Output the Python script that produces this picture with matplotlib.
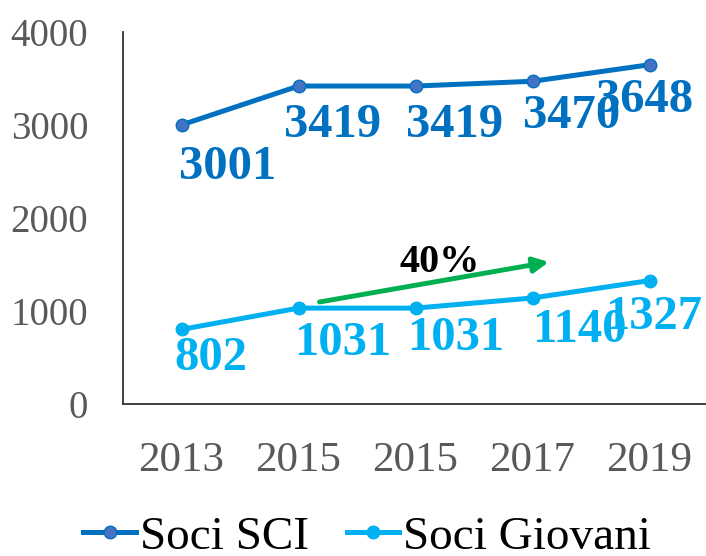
import matplotlib.pyplot as plt

years = ["2013", "2015", "2015", "2017", "2019"]
soci_sci = [3001, 3419, 3419, 3470, 3648]
soci_giovani = [802, 1031, 1031, 1140, 1327]
growth_label = "40%"

# label offsets in pixels (dx, dy of baseline) as placed in the original
sci_offsets = [(46, -54), (34, -51), (39, -51), (39, -47), (-5, -47)]
giov_offsets = [(29, -41), (44, -47), (40, -42), (47, -44), (4, -48)]

plt.rcParams['font.family'] = ['Liberation Serif', 'DejaVu Serif']

fig = plt.figure(figsize=(7.06, 5.56), dpi=100)
ax = fig.add_axes([123 / 706, 152 / 556, 585 / 706, 372 / 556])

x = list(range(len(years)))
ax.plot(x, soci_sci, color="#0070C0", lw=3.6, marker="o", ms=9,
        mfc="#4472C4", mec="#0070C0", label="Soci SCI", clip_on=False)
ax.plot(x, soci_giovani, color="#00B0F0", lw=3.6, marker="o", ms=9,
        mfc="#00B0F0", mec="#00B0F0", label="Soci Giovani", clip_on=False)

for xi, v, (dx, dy) in zip(x, soci_sci, sci_offsets):
    ax.annotate(str(v), (xi, v), xytext=(dx, dy), textcoords="offset pixels",
                ha="center", va="baseline", fontsize=35, fontweight="bold",
                color="#0070C0", annotation_clip=False)
for xi, v, (dx, dy) in zip(x, soci_giovani, giov_offsets):
    ax.annotate(str(v), (xi, v), xytext=(dx, dy), textcoords="offset pixels",
                ha="center", va="baseline", fontsize=35, fontweight="bold",
                color="#00B0F0", annotation_clip=False)

# green growth arrow
ax.annotate("", xy=(3.14, 1527), xytext=(1.18, 1097),
            arrowprops=dict(arrowstyle="-|>,head_length=0.9,head_width=0.45",
                            color="#00B050", lw=3.5, shrinkA=0, shrinkB=0))
ax.text(2.21, 1420, growth_label, ha="center", va="baseline", fontsize=29,
        fontweight="bold", color="black")

ax.set_xlim(-0.5, 4.5)
ax.set_ylim(0, 4000)
ax.set_yticks([0, 1000, 2000, 3000, 4000])
ax.set_xticks(x)
ax.set_xticklabels(years)
ax.tick_params(length=0, labelcolor="#595959")
ax.tick_params(axis="y", pad=25, labelsize=28)
ax.tick_params(axis="x", pad=27, labelsize=31)
for s in ["top", "right"]:
    ax.spines[s].set_visible(False)
for s in ["left", "bottom"]:
    ax.spines[s].set_color("#333333")
    ax.spines[s].set_linewidth(1.3)

fig.legend(loc="center", bbox_to_anchor=(0.52, 0.034), ncol=2, frameon=False,
           fontsize=34, handlelength=1.12, handletextpad=0.08,
           columnspacing=0.8, borderpad=0, borderaxespad=0)

fig.savefig("out.png", dpi=100)
